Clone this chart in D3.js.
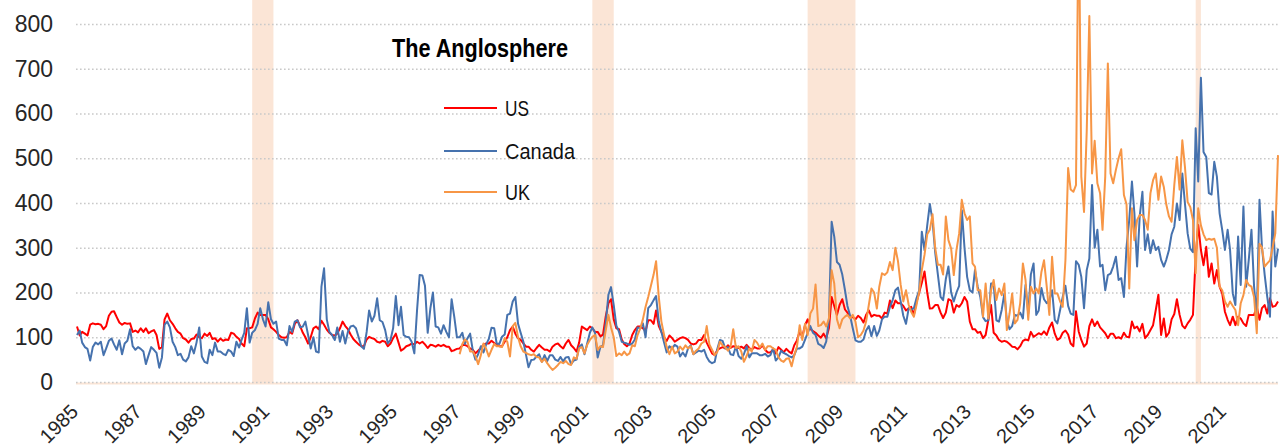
<!DOCTYPE html>
<html>
<head>
<meta charset="utf-8">
<script src="https://cdn.jsdelivr.net/npm/d3@7"></script>
<style>
body { margin: 0; background: #fff; }
#container { width: 1281px; height: 448px; }
.tick text { font-family: "Liberation Sans", Arial, sans-serif; fill: #262626; }
</style>
</head>
<body>
<div id="container"></div>
<script>

var width = 1281;
var height = 448;

// monthly index values, Jan 1985 - Sep 2022
var usValues = [
	124,104,112,108,104,128,131,129,130,128, 118,125,148,157,158,145,133,128,132,130,
	131,112,115,111,120,112,120,109,113,116, 105,74,78,140,153,138,130,120,112,108,
	98,95,88,96,97,106,100,98,108,103, 110,96,98,90,97,92,95,94,110,108,
	101,96,86,80,120,120,
	122,142,155,150,150,150,140,122,118,112, 105,100,99,100,112,108,130,138,125,110,
	100,86,100,120,124,118,137,128,117,110, 105,104,108,120,135,125,118,106,96,90,
	84,80,80,95,101,98,96,90,88,92, 90,80,86,98,108,88,70,74,80,82,
	86,84,90,86,90,84,76,
	83,82,79,83,80,83,79,79,69,71, 74,75,82,83,80,75,72,64,70,76,
	83,86,86,92,87,83,80,80,90,100, 116,124,108,98,94,86,79,79,72,68,
	76,83,77,72,72,68,79,84,86,80, 75,86,94,82,76,68,88,124,120,116,
	124,120,112,112,102,106,
	146,176,185,140,120,118,95,85,80,86, 105,116,124,124,120,114,138,138,130,160,
	125,112,100,92,104,98,90,94,98,100, 98,94,86,84,86,94,94,105,88,76,
	64,60,72,75,78,75,82,76,80,79, 76,79,75,83,76,72,78,75,75,82,
	72,66,66,73,64,78,
	72,66,74,68,64,82,93,113,101,127, 140,118,114,110,104,99,108,98,120,190,
	170,150,172,185,162,155,146,145,140,148, 143,133,150,160,146,150,148,148,142,155,
	153,182,165,182,176,176,170,160,165,168, 150,178,200,222,247,200,164,165,172,172,
	155,143,155,185,182,155,
	172,168,176,190,180,135,118,118,110,112, 98,105,139,172,110,104,94,90,92,90,
	85,79,78,73,80,92,95,93,112,101, 105,109,106,113,105,122,133,108,94,98,
	110,115,106,86,80,158,113,94,79,86, 125,140,125,135,122,116,109,98,108,108,
	98,100,97,110,
	101,100,135,120,124,113,130,98,105,116, 127,161,195,105,142,101,110,140,152,185,
	150,126,120,131,139,150,280,351,295,261, 302,235,265,220,250,213,198,157,139,127,
	146,127,146,142,131,125,150,150,150,168, 139,165,172,153,187,168,170,180
];

var canadaValues = [
	105,115,88,78,74,48,78,88,84,90, 60,75,92,97,84,72,93,62,86,92,
	118,80,72,78,74,68,40,60,78,72, 65,32,55,128,135,122,90,78,60,63,
	50,46,55,80,64,88,122,57,45,42, 72,60,88,68,68,63,60,72,68,58,
	90,77,94,110,165,88,
	110,116,130,165,140,124,178,140,130,135, 97,94,94,82,125,112,135,138,122,124,
	135,105,75,100,68,66,213,254,140,112, 105,94,122,90,114,86,112,124,126,120,
	100,80,74,112,160,135,148,187,138,134, 116,86,94,120,192,127,168,105,101,100,
	90,64,160,239,238,215,110,
	165,200,124,122,108,127,112,100,185,145, 100,100,110,85,98,108,70,50,62,80,
	66,84,96,121,120,86,85,101,106,150, 153,180,190,130,110,90,60,33,49,50,
	57,62,45,60,47,60,60,50,47,56, 46,55,56,40,48,50,79,84,62,86,
	110,122,110,55,78,82,
	130,195,212,172,126,112,90,88,86,83, 86,95,122,120,131,100,165,172,183,192,
	135,112,88,66,80,75,83,79,57,66, 57,75,82,62,66,70,68,72,56,46,
	42,45,75,94,92,75,78,62,60,80, 58,52,62,80,55,64,64,64,60,60,
	63,57,60,75,48,55,
	70,65,62,58,55,60,75,75,79,94, 109,125,110,105,85,82,76,90,140,358,
	325,268,262,240,205,170,148,120,93,90, 90,95,115,125,102,125,103,115,140,146,
	146,168,183,205,211,180,148,130,165,161, 165,187,205,336,295,350,398,360,290,240,
	190,183,230,258,200,180,
	200,215,384,300,235,205,200,250,213,190, 145,136,138,220,220,138,135,161,198,137,
	118,125,150,148,155,142,217,153,240,265, 150,160,210,185,176,182,205,139,131,161,
	190,215,170,153,150,270,262,235,165,250, 276,440,300,340,258,262,205,239,242,258,
	280,228,232,190,
	302,362,448,377,258,370,425,295,330,288, 317,295,302,273,258,273,295,330,347,399,
	362,466,399,332,298,290,567,448,680,514, 503,422,419,492,459,377,340,295,340,295,
	198,172,325,217,392,213,273,340,213,146, 407,302,240,190,146,381,258,298
];

// UK series starts Jan 1997
var ukValues = [
	62,85,95,90,68,68,58,40,60,86, 74,57,72,85,80,80,78,98,90,57,
	125,132,100,80,68,65,62,60,62,56, 55,45,52,42,34,27,32,38,45,42,
	47,40,38,55,52,75,78,64,83,94, 101,105,72,80,78,
	115,150,122,100,58,64,60,68,60,64, 82,80,105,120,140,168,190,215,240,270,
	190,135,105,78,62,79,64,68,79,72, 82,75,80,62,70,75,86,90,125,84,
	72,60,68,90,82,78,70,78,118,76, 80,68,45,58,75,68,94,88,77,86,
	72,80,80,75,72,55,
	48,45,52,53,35,60,79,127,94,130, 105,153,164,218,125,127,135,124,142,250,
	220,140,120,140,146,150,142,150,135,100, 105,115,135,172,209,200,164,213,243,239,
	245,268,250,300,270,217,180,205,172,157, 146,172,202,250,284,330,340,375,300,262,
	262,240,370,317,298,239,
	295,332,407,377,362,370,265,258,205,205, 146,220,142,205,228,183,209,194,220,116,
	153,198,131,139,176,265,228,139,213,198, 209,198,246,272,213,150,280,198,198,180,
	168,272,478,430,425,440,1100,459,380,560, 818,466,539,444,422,340,459,712,466,444,
	474,500,520,418,
	397,209,388,317,362,373,373,362,340,422, 451,466,407,459,436,397,370,358,440,503,
	430,540,481,402,391,362,243,388,350,330, 317,320,318,320,300,213,205,180,168,180,
	170,161,127,176,194,228,217,213,190,109, 309,301,258,265,272,300,332,507
];

var recessions = [
	['1990-07', '1991-03'],
	['2001-03', '2001-11'],
	['2007-12', '2009-06'],
	['2020-02', '2020-04']
];

var yTicks = [0, 100, 200, 300, 400, 500, 600, 700, 800];
var yearLabels = [1985, 1987, 1989, 1991, 1993, 1995, 1997, 1999, 2001, 2003,
	2005, 2007, 2009, 2011, 2013, 2015, 2017, 2019, 2021];

var series = [
	{'name':'US', 'values':usValues, 'start':new Date(1985, 0, 1), 'color':'#FF0000'},
	{'name':'Canada', 'values':canadaValues, 'start':new Date(1985, 0, 1), 'color':'#4672AE'},
	{'name':'UK', 'values':ukValues, 'start':new Date(1997, 0, 1), 'color':'#F79646'}
];

var parseMonth = d3.timeParse('%Y-%m');

var left = 76, right = 1278, bottom = 382, top800 = 24;

var x = d3.scaleTime()
	.domain([new Date(1985, 0, 1), new Date(2022, 8, 1)])
	.range([77, 1278]);

var y = d3.scaleLinear()
	.domain([0, 800])
	.range([bottom, top800]);

var svg = d3.select('#container')
	.append('svg')
	.attr('width', width)
	.attr('height', height);

svg.selectAll('.recession')
	.data(recessions)
	.enter()
	.append('rect')
	.attr('class', 'recession')
	.attr('x', function(d){return x(parseMonth(d[0]));})
	.attr('y', 0)
	.attr('width', function(d){return x(parseMonth(d[1])) - x(parseMonth(d[0]));})
	.attr('height', bottom + 1)
	.style('fill', '#FBE5D6');

svg.append('line')
	.attr('x1', left)
	.attr('x2', right)
	.attr('y1', bottom + 1.5)
	.attr('y2', bottom + 1.5)
	.style('stroke', '#FBE5D6')
	.style('stroke-width', 2);

var yAxis = svg.append('g')
	.attr('transform', 'translate(' + left + ',0)')
	.call(d3.axisLeft(y)
		.tickValues(yTicks)
		.tickSize(-(right - left))
		.tickPadding(23));

yAxis.select('.domain').remove();
yAxis.selectAll('.tick line')
	.style('stroke', '#C9C9C9')
	.style('stroke-width', 1.6)
	.style('stroke-dasharray', '1.6,2.4');
yAxis.selectAll('.tick text')
	.style('font-size', '23px');

var xAxis = svg.append('g')
	.attr('transform', 'translate(0,' + bottom + ')')
	.call(d3.axisBottom(x)
		.tickValues(yearLabels.map(function(yr){return new Date(yr, 0, 1);}))
		.tickFormat(d3.timeFormat('%Y'))
		.tickSize(0));

xAxis.select('.domain').remove();
xAxis.selectAll('.tick text')
	.attr('x', 0)
	.attr('y', 0)
	.attr('dy', '0.35em')
	.attr('text-anchor', 'end')
	.attr('transform', 'translate(-3,26) rotate(-45)')
	.style('font-size', '20px');

var line = d3.line()
	.x(function(d){return x(d.date);})
	.y(function(d){return y(d.value);});

series.forEach(function(s){
	var points = s.values.map(function(v, i){
		return {'date':d3.timeMonth.offset(s.start, i), 'value':v};
	});
	svg.append('path')
		.datum(points)
		.attr('d', line)
		.style('fill', 'none')
		.style('stroke', s.color)
		.style('stroke-width', 2)
		.style('stroke-linejoin', 'round');
});

svg.append('text')
	.attr('x', 392)
	.attr('y', 57)
	.attr('textLength', 176)
	.attr('lengthAdjust', 'spacingAndGlyphs')
	.style('font-family', '"Liberation Sans Narrow", "Liberation Sans", Arial, sans-serif')
	.style('font-weight', 'bold')
	.style('font-size', '26px')
	.style('fill', '#000')
	.text('The Anglosphere');

var legendWidths = [24, 70, 25];

var legend = svg.selectAll('.legend')
	.data(series)
	.enter()
	.append('g')
	.attr('class', 'legend')
	.attr('transform', function(d, i){return 'translate(444,' + [108, 151, 192][i] + ')';});

legend.append('line')
	.attr('x1', 0)
	.attr('x2', 53)
	.style('stroke', function(d){return d.color;})
	.style('stroke-width', 2);

legend.append('text')
	.attr('x', 61)
	.attr('y', 8)
	.attr('textLength', function(d, i){return legendWidths[i];})
	.attr('lengthAdjust', 'spacingAndGlyphs')
	.style('font-family', '"Liberation Sans Narrow", "Liberation Sans", Arial, sans-serif')
	.style('font-size', '22px')
	.style('fill', '#111')
	.text(function(d){return d.name;});

</script>
</body>
</html>
